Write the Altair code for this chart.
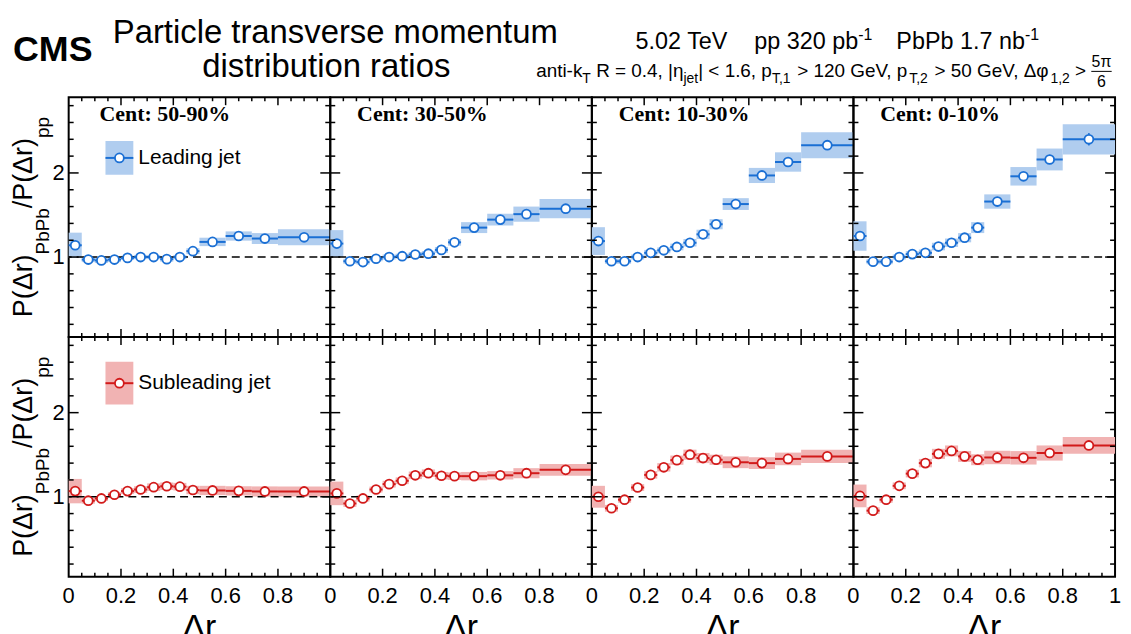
import altair as alt
import pandas as pd

# delta r bins
bin_lo = [0.0, 0.05, 0.1, 0.15, 0.2, 0.25, 0.3, 0.35, 0.4, 0.45, 0.5, 0.6, 0.7, 0.8]
bin_hi = [0.05, 0.1, 0.15, 0.2, 0.25, 0.3, 0.35, 0.4, 0.45, 0.5, 0.6, 0.7, 0.8, 1.0]
bin_mid = [0.025, 0.075, 0.125, 0.175, 0.225, 0.275, 0.325, 0.375, 0.425, 0.475, 0.55, 0.65, 0.75, 0.9]

cents = ["50-90%", "30-50%", "10-30%", "0-10%"]

# leading jet ratio, systematic and statistical uncertainties
lead_ratio = {
    "50-90%": [1.14, 0.97, 0.96, 0.97, 0.99, 1.00, 1.00, 0.975, 1.00, 1.07, 1.18, 1.25, 1.22, 1.235],
    "30-50%": [1.16, 0.95, 0.94, 0.98, 1.00, 1.01, 1.03, 1.04, 1.085, 1.175, 1.35, 1.445, 1.51, 1.575],
    "10-30%": [1.19, 0.95, 0.95, 1.00, 1.05, 1.08, 1.12, 1.17, 1.27, 1.39, 1.63, 1.97, 2.13, 2.33],
    "0-10%": [1.25, 0.945, 0.945, 1.00, 1.035, 1.05, 1.125, 1.17, 1.23, 1.35, 1.66, 1.96, 2.16, 2.40],
}
lead_sys = {
    "50-90%": [0.15, 0.03, 0.03, 0.03, 0.025, 0.025, 0.025, 0.03, 0.025, 0.035, 0.05, 0.055, 0.065, 0.095],
    "30-50%": [0.16, 0.03, 0.03, 0.03, 0.03, 0.03, 0.03, 0.03, 0.035, 0.04, 0.065, 0.07, 0.09, 0.115],
    "10-30%": [0.165, 0.03, 0.03, 0.03, 0.035, 0.035, 0.04, 0.045, 0.055, 0.06, 0.07, 0.09, 0.115, 0.155],
    "0-10%": [0.175, 0.03, 0.03, 0.03, 0.035, 0.04, 0.045, 0.05, 0.055, 0.065, 0.085, 0.11, 0.13, 0.18],
}
lead_stat = {
    "50-90%": [0.02, 0.01, 0.01, 0.01, 0.01, 0.01, 0.01, 0.01, 0.01, 0.015, 0.015, 0.02, 0.025, 0.03],
    "30-50%": [0.02, 0.01, 0.01, 0.01, 0.01, 0.01, 0.01, 0.01, 0.01, 0.015, 0.02, 0.025, 0.03, 0.035],
    "10-30%": [0.02, 0.01, 0.01, 0.01, 0.01, 0.01, 0.01, 0.015, 0.015, 0.02, 0.025, 0.03, 0.04, 0.045],
    "0-10%": [0.02, 0.01, 0.01, 0.01, 0.01, 0.01, 0.015, 0.015, 0.02, 0.02, 0.03, 0.04, 0.055, 0.075],
}

# subleading jet
sub_ratio = {
    "50-90%": [1.067, 0.953, 0.98, 1.024, 1.067, 1.086, 1.114, 1.125, 1.12, 1.08, 1.075, 1.07, 1.063, 1.063],
    "30-50%": [1.04, 0.92, 0.98, 1.086, 1.15, 1.19, 1.255, 1.28, 1.25, 1.245, 1.245, 1.255, 1.28, 1.32],
    "10-30%": [1.0, 0.863, 0.965, 1.11, 1.26, 1.35, 1.435, 1.50, 1.46, 1.44, 1.41, 1.40, 1.45, 1.48],
    "0-10%": [1.01, 0.835, 0.965, 1.13, 1.275, 1.40, 1.51, 1.545, 1.48, 1.44, 1.467, 1.463, 1.52, 1.61],
}
sub_sys = {
    "50-90%": [0.145, 0.035, 0.03, 0.03, 0.035, 0.04, 0.045, 0.045, 0.045, 0.05, 0.055, 0.055, 0.06, 0.06],
    "30-50%": [0.14, 0.04, 0.035, 0.035, 0.04, 0.04, 0.045, 0.045, 0.045, 0.045, 0.05, 0.05, 0.06, 0.07],
    "10-30%": [0.13, 0.04, 0.035, 0.04, 0.045, 0.05, 0.055, 0.06, 0.06, 0.06, 0.07, 0.07, 0.075, 0.08],
    "0-10%": [0.135, 0.04, 0.035, 0.04, 0.045, 0.05, 0.06, 0.065, 0.065, 0.065, 0.08, 0.08, 0.09, 0.1],
}
sub_stat = {
    "50-90%": [0.02, 0.01, 0.01, 0.01, 0.01, 0.01, 0.01, 0.01, 0.01, 0.01, 0.01, 0.015, 0.015, 0.015],
    "30-50%": [0.02, 0.01, 0.01, 0.01, 0.01, 0.01, 0.01, 0.01, 0.01, 0.01, 0.015, 0.015, 0.02, 0.02],
    "10-30%": [0.02, 0.01, 0.01, 0.01, 0.015, 0.015, 0.015, 0.015, 0.015, 0.015, 0.015, 0.02, 0.02, 0.025],
    "0-10%": [0.02, 0.015, 0.015, 0.015, 0.015, 0.015, 0.015, 0.015, 0.015, 0.015, 0.02, 0.02, 0.025, 0.03],
}

x_labels = [0, 0.2, 0.4, 0.6, 0.8]
x_major = [0.2, 0.4, 0.6, 0.8]
x_minor = [0.05, 0.1, 0.15, 0.25, 0.3, 0.35, 0.45, 0.5, 0.55, 0.65, 0.7, 0.75, 0.85, 0.9, 0.95]
y_major = [1, 2]
y_minor = [0.2, 0.4, 0.6, 0.8, 1.2, 1.4, 1.6, 1.8, 2.2, 2.4, 2.6, 2.8]

SANS = "Liberation Sans"
SERIF = "Liberation Serif"
BLUE, LIGHT_BLUE = "#1a6fd4", "#b0cdef"
RED, LIGHT_RED = "#d21a1a", "#f1b3b3"

W, H = 263, 241
TOP = 87  # room above the first row for the header texts
xs = alt.Scale(domain=[0, 1], nice=False, zero=False)
ys = alt.Scale(domain=[0.05, 2.9], nice=False, zero=False)
ONE = pd.DataFrame({"k": [0]})

# rough Arial / Liberation Sans advance widths (em) for placing text pieces
AW = {" ": .278, "(": .333, ")": .333, ",": .278, "-": .333, ".": .278, "/": .278,
      "<": .584, "=": .584, ">": .584, "|": .26, "G": .778, "P": .667, "R": .722,
      "T": .611, "V": .667, "a": .556, "b": .556, "e": .556, "i": .222, "j": .222,
      "k": .5, "n": .556, "p": .556, "r": .333, "t": .278, "Δ": .668, "η": .556,
      "φ": .65, "π": .6}
AW.update({d: .556 for d in "0123456789"})


def tw(s, fs):
    return sum(AW.get(c, .6) for c in s) * fs


def label(t, px, py, **kw):
    kw.setdefault("baseline", "alphabetic")
    return alt.Chart(ONE).mark_text(**kw).encode(
        x=alt.value(px), y=alt.value(py), text=alt.value(t))


def run(pieces, x0, y0):
    layers, x = [], x0
    for t, fs, dy in pieces:
        if t is None:
            x += fs
            continue
        lead = len(t) - len(t.lstrip(" "))
        trail = len(t) - len(t.rstrip(" "))
        x += lead * AW[" "] * fs
        s = t.strip(" ")
        layers.append(label(s, x, y0 + dy, font=SANS, fontSize=fs, align="left"))
        x += tw(s, fs) + trail * AW[" "] * fs
    return layers, x


def tick_layers():
    out = []
    for vals, ln in [(x_major, 8), (x_minor, 4)]:
        d = pd.DataFrame({"v": vals})
        x = alt.X("v:Q", scale=xs, axis=None)
        out.append(alt.Chart(d).mark_rule(color="black", strokeWidth=1.5).encode(
            x=x, y=alt.value(H), y2=alt.value(H - ln)))
        out.append(alt.Chart(d).mark_rule(color="black", strokeWidth=1.5).encode(
            x=x, y=alt.value(0), y2=alt.value(ln)))
    for vals, ln in [(y_major, 10), (y_minor, 5)]:
        d = pd.DataFrame({"v": vals})
        y = alt.Y("v:Q", scale=ys, axis=None)
        out.append(alt.Chart(d).mark_rule(color="black", strokeWidth=1.5).encode(
            y=y, x=alt.value(0), x2=alt.value(ln)))
        out.append(alt.Chart(d).mark_rule(color="black", strokeWidth=1.5).encode(
            y=y, x=alt.value(W), x2=alt.value(W - ln)))
    return out


def x_tick_labels(last):
    d = pd.DataFrame({"v": x_labels + ([1] if last else [])})
    return [
        alt.Chart(d).mark_text(font=SANS, fontSize=22, align="center", baseline="alphabetic").encode(
            x=alt.X("v:Q", scale=xs, axis=None), y=alt.value(H + 26),
            text=alt.Text("v:Q", format="~g")),
        label("Δr", W / 2, H + 62, font=SANS, fontSize=34, align="center"),
    ]


def y_tick_labels():
    d = pd.DataFrame({"v": y_major})
    return [alt.Chart(d).mark_text(font=SANS, fontSize=22, align="right", baseline="middle").encode(
        y=alt.Y("v:Q", scale=ys, axis=None), x=alt.value(-4),
        text=alt.Text("v:Q", format="d"))]


def legend(name, dark, light, y0, y1):
    yc = (y0 + y1) / 2
    return [
        alt.Chart(ONE).mark_rect(color=light).encode(
            x=alt.value(37), x2=alt.value(65), y=alt.value(y0), y2=alt.value(y1)),
        alt.Chart(ONE).mark_rule(color=dark, strokeWidth=2).encode(
            x=alt.value(37), x2=alt.value(65), y=alt.value(yc)),
        alt.Chart(ONE).mark_point(shape="circle", filled=True, fill="white", stroke=dark,
                                  strokeWidth=1.8, size=80, opacity=1).encode(
            x=alt.value(51), y=alt.value(yc)),
        label(name, 70, yc, font=SANS, fontSize=21, align="left", baseline="middle"),
    ]


def y_title():
    pieces = [("P(Δr)", 27, 0), ("PbPb", 19, 17), ("/P(Δr)", 27, 0), ("pp", 19, 17)]
    total = sum(tw(t, fs) for t, fs, _ in pieces)
    y = H / 2 + total / 2
    out = []
    for t, fs, dy in pieces:
        out.append(label(t, -37 + dy, y, font=SANS, fontSize=fs, angle=270, align="left"))
        y -= tw(t, fs)
    return out


def header():
    # drawn in the top-left panel, above its plot area
    out = [
        label("CMS", -56, -36, font=SANS, fontSize=36, fontWeight="bold", align="left"),
        label("Particle transverse momentum", 268, -55, font=SANS, fontSize=33, align="center"),
        label("distribution ratios", 259, -20, font=SANS, fontSize=33, align="center"),
    ]
    line1 = [("5.02 TeV", 23.5, 0), (None, 24, 0), ("pp 320 pb", 23.5, 0), ("-1", 16, -9),
             (None, 24, 0), ("PbPb 1.7 nb", 23.5, 0), ("-1", 16, -9)]
    l1, _ = run(line1, 570, -49)
    line2 = [("anti-k", 19, 0), ("T", 14, 6), (" R = 0.4, |η", 19, 0), ("jet", 14, 6),
             ("| < 1.6, p", 19, 0), ("T,1", 14, 6), (" > 120 GeV, p", 19, 0), ("T,2", 14, 6),
             (" > 50 GeV, Δφ", 19, 0), ("1,2", 14, 6), (" > ", 19, 0)]
    l2, xe = run(line2, 470, -20)
    fw = tw("5π", 16) + 2
    frac = [
        label("5π", xe + fw / 2, -30, font=SANS, fontSize=16, align="center"),
        label("6", xe + fw / 2, -10, font=SANS, fontSize=16, align="center"),
        alt.Chart(ONE).mark_rule(color="black", strokeWidth=1).encode(
            x=alt.value(xe), x2=alt.value(xe + fw), y=alt.value(-26)),
    ]
    # fixes the outer top-left corner of the whole figure
    corner = alt.Chart(ONE).mark_rect(opacity=0).encode(
        x=alt.value(-59), x2=alt.value(-58), y=alt.value(-TOP), y2=alt.value(-TOP + 1))
    return out + l1 + l2 + frac + [corner]


def panel(row, col):
    cent = cents[col]
    if row == 0:
        r, s, st = lead_ratio[cent], lead_sys[cent], lead_stat[cent]
        dark, light = BLUE, LIGHT_BLUE
    else:
        r, s, st = sub_ratio[cent], sub_sys[cent], sub_stat[cent]
        dark, light = RED, LIGHT_RED
    df = pd.DataFrame({"lo": bin_lo, "hi": bin_hi, "mid": bin_mid, "r": r, "sys": s, "stat": st})
    base = alt.Chart(df).transform_calculate(
        s_lo="datum.r - datum.sys", s_hi="datum.r + datum.sys",
        e_lo="datum.r - datum.stat", e_hi="datum.r + datum.stat")

    box = base.mark_rect(color=light).encode(
        x=alt.X("lo:Q", scale=xs, axis=None), x2="hi:Q",
        y=alt.Y("s_lo:Q", scale=ys, axis=None), y2="s_hi:Q")
    unity = alt.Chart(pd.DataFrame({"one": [1]})).mark_rule(
        color="black", strokeWidth=1.5, strokeDash=[8, 5]).encode(
        y=alt.Y("one:Q", scale=ys, axis=None))
    hline = base.mark_rule(color=dark, strokeWidth=2).encode(
        x=alt.X("lo:Q", scale=xs, axis=None), x2="hi:Q",
        y=alt.Y("r:Q", scale=ys, axis=None))
    stat = base.mark_rule(color=dark, strokeWidth=1.5).encode(
        x=alt.X("mid:Q", scale=xs, axis=None),
        y=alt.Y("e_lo:Q", scale=ys, axis=None), y2="e_hi:Q")
    pts = base.mark_point(shape="circle", filled=True, fill="white", stroke=dark,
                          strokeWidth=1.8, size=80, opacity=1).encode(
        x=alt.X("mid:Q", scale=xs, axis=None),
        y=alt.Y("r:Q", scale=ys, axis=None))

    layers = [box, unity, hline, stat, pts] + tick_layers()
    if row == 0:
        layers.append(label("Cent: " + cent, 31 if col == 0 else 27, 24, font=SERIF,
                            fontSize=22, fontWeight="bold", align="left"))
    else:
        layers += x_tick_labels(col == 3)
    if col == 0:
        if row == 0:
            layers += legend("Leading jet", BLUE, LIGHT_BLUE, 44, 78)
            layers += header()
        else:
            layers += legend("Subleading jet", RED, LIGHT_RED, 25, 68)
        layers += y_tick_labels() + y_title()
    return alt.layer(*layers).properties(width=W, height=H)


panels = [panel(r, c) for r in range(2) for c in range(4)]

chart = alt.concat(*panels, columns=4, spacing=0, bounds="flush").properties(
    padding=0
).configure_view(
    stroke="black", strokeWidth=2
)

chart.save("out.html", embed_options={"renderer": "svg", "actions": False})
